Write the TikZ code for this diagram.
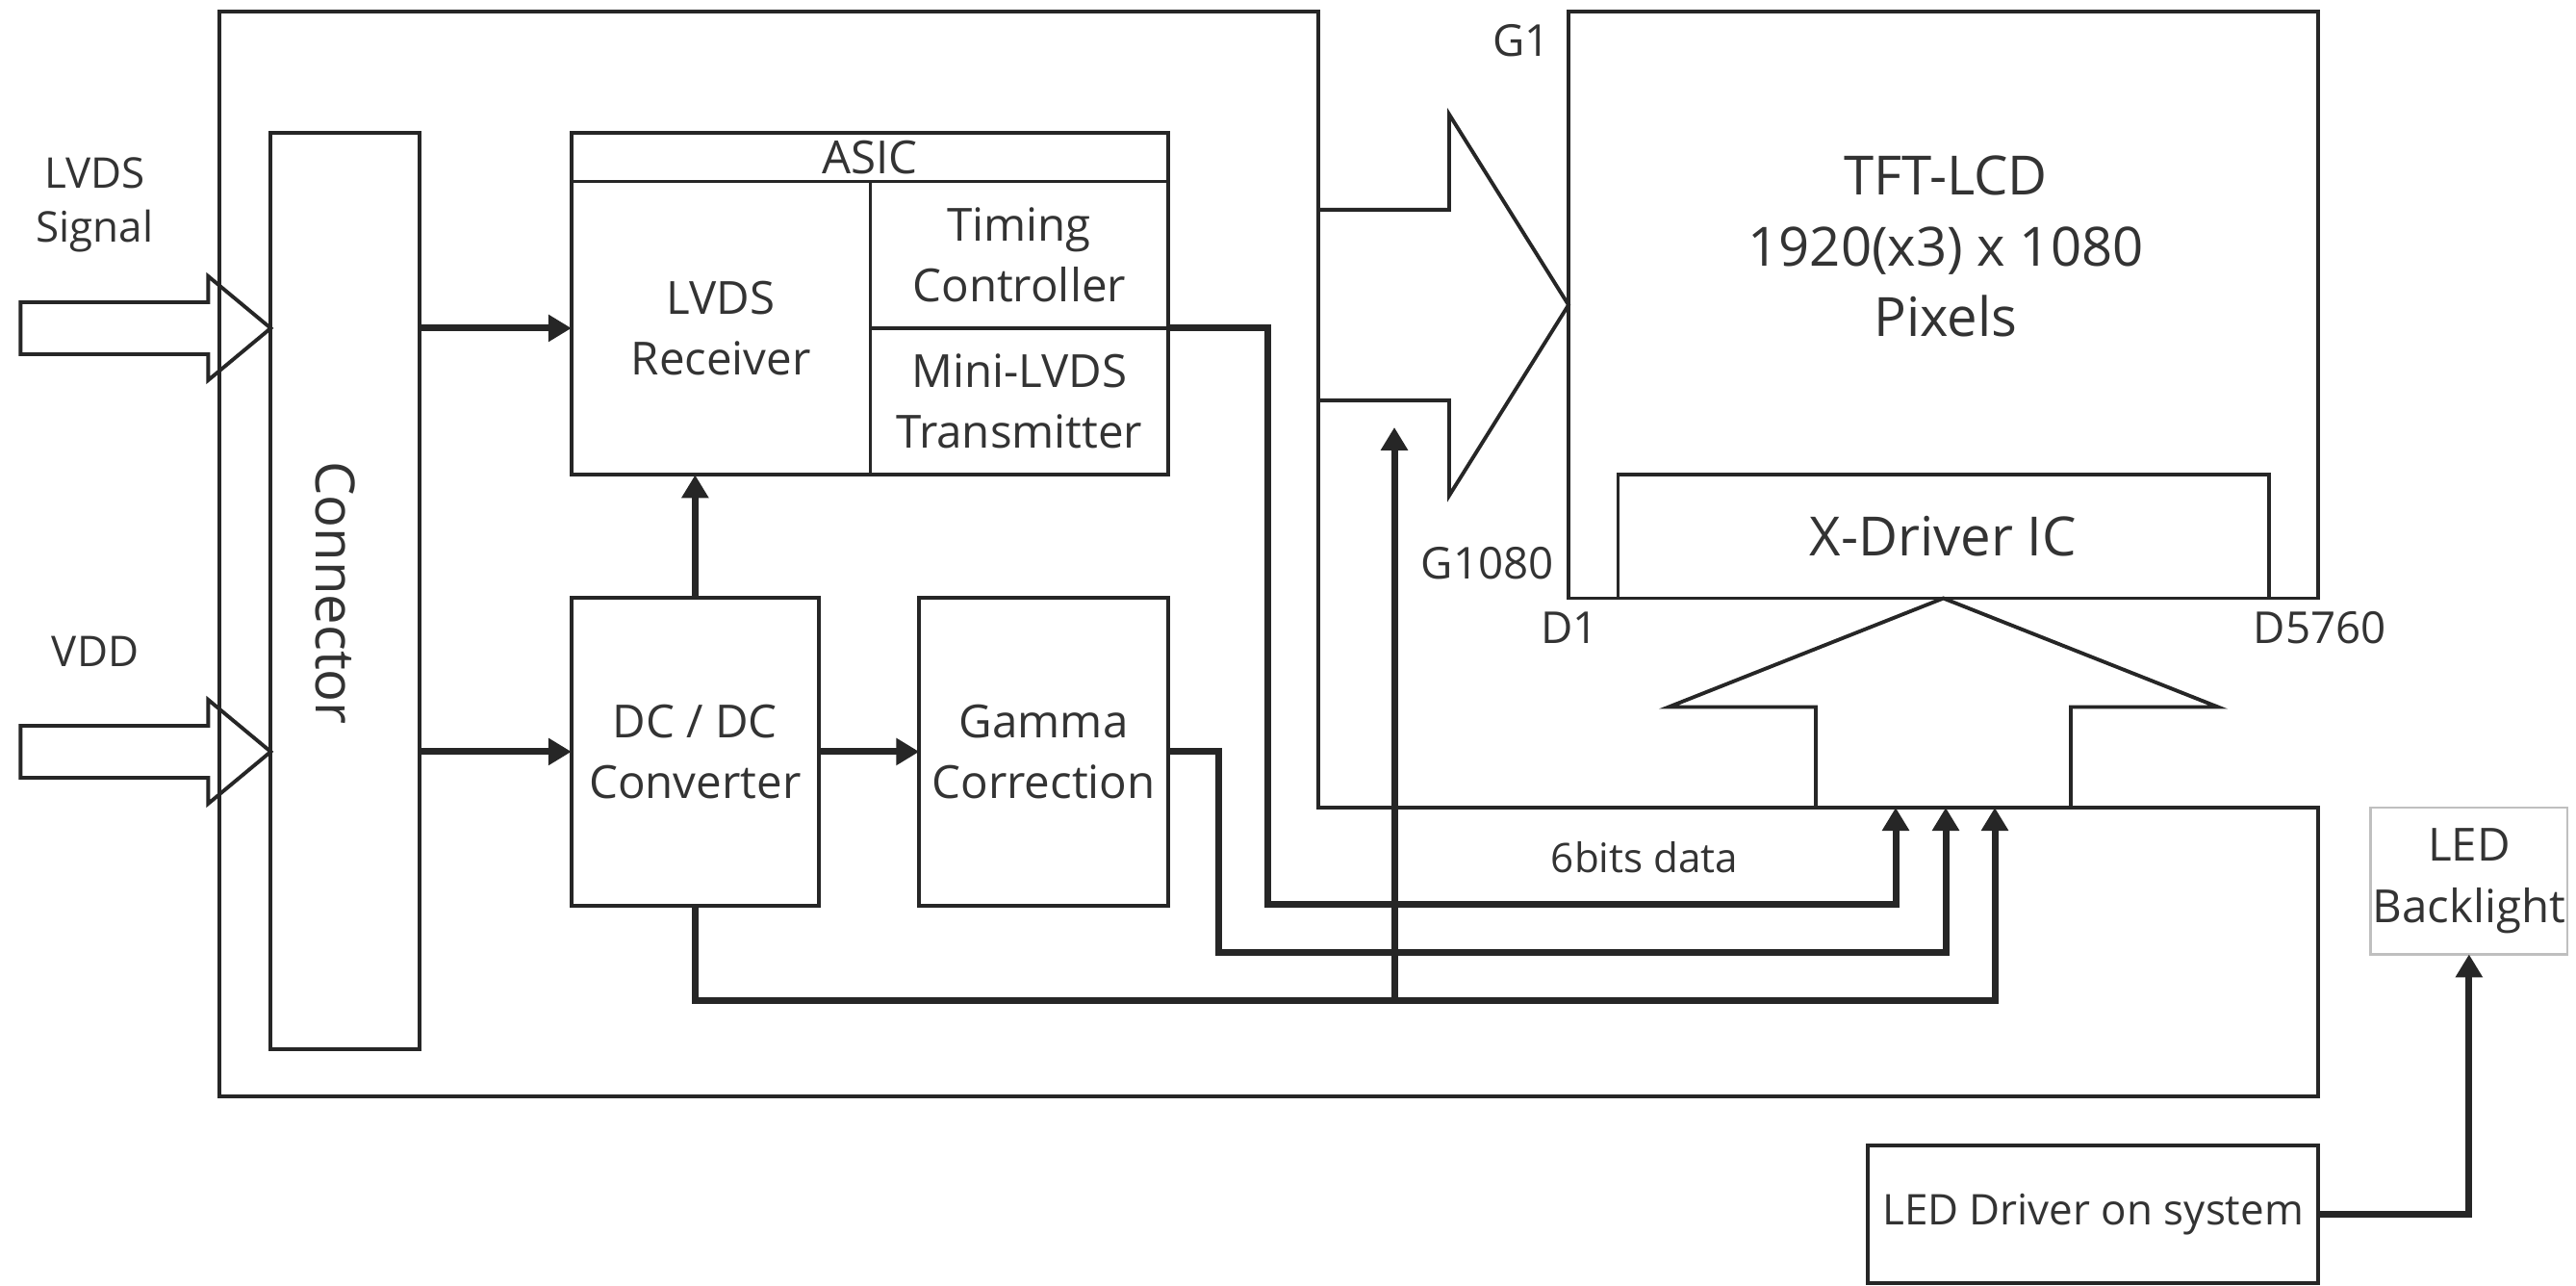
\documentclass[tikz,border=0pt]{standalone}
\usepackage{fontspec}
\setmainfont{Open Sans}
\usepackage{xcolor}
\usetikzlibrary{positioning, arrows.meta, calc}

\definecolor{ink}{HTML}{262626}
\definecolor{txt}{HTML}{333333}

\tikzset{
    block/.style={draw=ink, line width=1.1pt, rectangle, inner sep=0pt, outer sep=0pt, align=center,
        text=txt, font=\fontsize{13.5}{18}\selectfont},
    outline/.style={draw=ink, line width=1.1pt, line join=miter},
    bus/.style={draw=ink, line width=2pt},
    busarrow/.style={bus, -{Triangle[length=0.24cm, width=0.27cm]}},
    pinlabel/.style={text=txt, align=center, font=\fontsize{13}{16}\selectfont}
}

\begin{document}
\begin{tikzpicture}[x=1cm, y=-1cm]
    \useasboundingbox (0,0) rectangle (26.77,13.35);

    % Module outline
    \draw[outline] (2.278,0.121) -- (13.704,0.121) -- (13.704,8.39) -- (24.09,8.39)
        -- (24.09,11.39) -- (2.278,11.39) -- cycle;

    % Connector
    \node[block, minimum width=1.545cm, minimum height=9.515cm] (conn) at (3.586,6.14) {};
    \node[rotate=-90, text=txt, font=\fontsize{16}{16}\selectfont] (connlabel) at (3.49,6.16) {Connector};

    % ASIC blocks
    \node[block, minimum width=6.201cm, minimum height=0.502cm] (asic) at (9.0385,1.634) {ASIC};
    \node[block, minimum width=3.107cm, minimum height=3.049cm, anchor=north west] (lvdsr) at (asic.south west) {LVDS\\Receiver};
    \node[block, minimum width=3.094cm, minimum height=1.521cm, anchor=north west] (tcon) at (lvdsr.north east) {Timing\\Controller};
    \node[block, minimum width=3.094cm, minimum height=1.528cm, anchor=north west] (minitx) at (tcon.south west) {Mini-LVDS\\Transmitter};

    % Power blocks
    \node[block, minimum width=2.571cm, minimum height=3.196cm] (dcdc) at (7.2235,7.809) {DC / DC\\Converter};
    \node[block, minimum width=2.587cm, minimum height=3.196cm] (gamma) at (10.846,7.809) {Gamma\\Correction};

    % Panel
    \node[block, minimum width=7.79cm, minimum height=6.094cm] (tft) at (20.195,3.168) {};
    \node[text=txt, align=center, font=\fontsize{16}{21}\selectfont] (tfttext) at (20.22,2.56) {TFT-LCD\\1920(x3) x 1080\\Pixels};
    \node[block, minimum width=6.761cm, minimum height=1.281cm, anchor=south, font=\fontsize{16}{20}\selectfont] (xdrv) at (tft.south) {X-Driver IC};

    \node[pinlabel] (g1) at (15.81,0.423) {G1};
    \node[pinlabel, anchor=east] (g1080) at (16.27,5.849) {G1080};
    \node[pinlabel] (d1) at (16.31,6.518) {D1};
    \node[pinlabel] (d5760) at (24.107,6.518) {D5760};

    % Backlight
    \node[block, draw=gray!50, line width=0.7pt, minimum width=2.044cm, minimum height=1.524cm] (ledbl) at (25.658,9.152) {LED\\Backlight};
    \node[block, minimum width=4.678cm, minimum height=1.434cm, font=\fontsize{12.5}{16}\selectfont] (leddrv) at (21.751,12.613) {LED Driver on system};

    % Inputs
    \node[pinlabel, font=\fontsize{12.5}{15.8}\selectfont] (lvdsin) at (0.982,2.13) {LVDS\\Signal};
    \node[pinlabel, font=\fontsize{12.5}{15.8}\selectfont] (vddin) at (0.99,6.77) {VDD};

    \coordinate (lvdstip) at (conn.west |- lvdsr.west);
    \coordinate (vddtip) at (conn.west |- dcdc.west);
    \foreach \tip in {lvdstip, vddtip}
        \draw[outline] (\tip) -- ++(-0.65,-0.54) -- ++(0,0.27) -- ++(-1.95,0) -- ++(0,0.54)
            -- ++(1.95,0) -- ++(0,0.27) -- cycle;

    % Wide data arrows
    \draw[outline] ($(tft.west)+(-2.594,-0.99)$) -- ++(1.354,0) -- ++(0,-0.99) -- (tft.west)
        -- ++(-1.24,1.98) -- ++(0,-0.99) -- ++(-1.354,0);
    \draw[outline] ($(xdrv.south)+(-1.325,2.175)$) -- ++(0,-1.045) -- ++(-1.53,0) -- (xdrv.south)
        -- ++(2.855,1.13) -- ++(-1.53,0) -- ++(0,1.045);

    \node[pinlabel, font=\fontsize{12}{14}\selectfont] (bits) at (17.09,8.905) {6bits data};

    % Signal lines
    \coordinate (data1) at (19.70,8.39);
    \coordinate (data2) at (20.22,8.39);
    \coordinate (data3) at (20.73,8.39);
    \coordinate (tap) at (14.49,10.397);
    \coordinate (gate) at (14.49,4.439);

    \draw[busarrow] (conn.east |- lvdsr.west) -- (lvdsr.west);
    \draw[busarrow] (conn.east |- dcdc.west) -- (dcdc.west);
    \draw[busarrow] (dcdc.east) -- (gamma.west);
    \draw[busarrow] (dcdc.north) -- (dcdc.north |- lvdsr.south);

    \draw[busarrow] (tcon.south east) -| (13.175,9.399) -| (data1);
    \draw[busarrow] (gamma.east) -| (12.661,9.89) -| (data2);
    \draw[busarrow] (dcdc.south) |- (data3 |- tap) -- (data3);
    \draw[busarrow] (tap) -- (gate);

    \draw[busarrow] (leddrv.east) -| (ledbl.south);
\end{tikzpicture}
\end{document}
